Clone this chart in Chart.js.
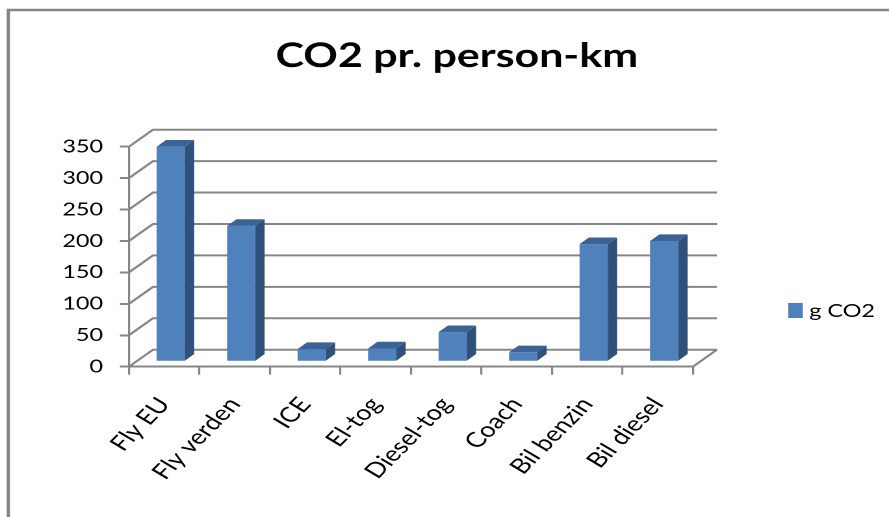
<!DOCTYPE html>
<html>
<head>
<meta charset="utf-8">
<script src="https://cdn.jsdelivr.net/npm/chart.js@4.4.1/dist/chart.umd.min.js"></script>
<style>
  html, body { margin: 0; padding: 0; background: #fff; overflow: hidden; }
  /* the chart is laid out narrow and stretched sideways, so the text gets the wide look */
  #wrap { width: 684px; height: 517px; transform: scaleX(1.2997); transform-origin: 0 0; }
</style>
</head>
<body>
<div id="wrap"><canvas id="chartCo2" width="684" height="517"></canvas></div>
<script>
(function () {
  // ---- data ----
  const categories = ["Fly EU", "Fly verden", "ICE", "El-tog", "Diesel-tog", "Coach", "Bil benzin", "Bil diesel"];
  const gCO2 = [342, 216, 20, 21, 47, 15, 187, 192];
  const seriesLabel = "g CO2";
  const chartTitle = "CO2 pr. person-km";
  const yMax = 350;
  const yStep = 50;

  // ---- geometry (canvas px, before the sideways stretch) ----
  const AXIS_LEFT = 99.2;
  const AXIS_RIGHT = 533.1;
  const PLOT_TOP = 146.7;
  const PLOT_BOTTOM = 366.7;
  const W = 684, H = 517;

  const WALL_DX = 18.5, WALL_DY = -17;    // front axis -> back wall
  const BAR_DX = 5, BAR_DY = -5;          // bars sit a bit behind the front axis
  const DEPTH_DX = 7.2, DEPTH_DY = -6.7;  // bar thickness

  const GRID = "#868686";
  const BAR_FRONT = "#4f81bd";
  const BAR_TOP = "#3b6397";
  const BAR_SIDE = "#2e5079";
  const FONT = "Lato, 'Open Sans', sans-serif";

  const Y_AXIS_W = 90;
  const X_AXIS_H = 140;

  // back wall, side diagonals and the 3d faces of the bars
  const wall3d = {
    id: "wall3d",
    beforeDatasetsDraw(chart) {
      const { ctx, chartArea } = chart;
      const y = chart.scales.y;
      ctx.save();
      ctx.strokeStyle = GRID;
      ctx.lineWidth = 2;
      y.ticks.forEach(t => {
        const py = y.getPixelForValue(t.value);
        ctx.beginPath();
        ctx.moveTo(chartArea.left, py);
        ctx.lineTo(chartArea.left + WALL_DX, py + WALL_DY);
        ctx.lineTo(chartArea.right + WALL_DX, py + WALL_DY);
        ctx.stroke();
      });
      // floor edge on the right
      const p0 = y.getPixelForValue(0);
      ctx.beginPath();
      ctx.moveTo(chartArea.right, p0);
      ctx.lineTo(chartArea.right + WALL_DX, p0 + WALL_DY);
      ctx.stroke();
      ctx.restore();

      ctx.save();
      ctx.translate(BAR_DX, BAR_DY);
    },
    afterDatasetsDraw(chart) {
      const { ctx } = chart;
      ctx.restore();

      const meta = chart.getDatasetMeta(0);
      ctx.save();
      meta.data.forEach(bar => {
        const { x, y, base, width } = bar.getProps(["x", "y", "base", "width"], true);
        const l = x - width / 2 + BAR_DX;
        const r = x + width / 2 + BAR_DX;
        const t = y + BAR_DY;
        const b = base + BAR_DY;

        ctx.fillStyle = BAR_SIDE;
        ctx.beginPath();
        ctx.moveTo(r, b);
        ctx.lineTo(r + DEPTH_DX, b + DEPTH_DY);
        ctx.lineTo(r + DEPTH_DX, t + DEPTH_DY);
        ctx.lineTo(r, t);
        ctx.closePath();
        ctx.fill();

        ctx.fillStyle = BAR_TOP;
        ctx.beginPath();
        ctx.moveTo(l, t);
        ctx.lineTo(l + DEPTH_DX, t + DEPTH_DY);
        ctx.lineTo(r + DEPTH_DX, t + DEPTH_DY);
        ctx.lineTo(r, t);
        ctx.closePath();
        ctx.fill();
      });
      ctx.restore();
    },
    afterDraw(chart) {
      const { ctx } = chart;
      ctx.save();

      // outer frame (only top and left show)
      ctx.strokeStyle = GRID;
      ctx.lineWidth = 2.5;
      ctx.beginPath();
      ctx.moveTo(6.4, H + 5);
      ctx.lineTo(6.4, 10);
      ctx.lineTo(W + 5, 10);
      ctx.stroke();

      // title
      ctx.fillStyle = "#000";
      ctx.font = "bold 33px " + FONT;
      ctx.textAlign = "center";
      ctx.textBaseline = "alphabetic";
      ctx.fillText(chartTitle, 351.5, 67);

      // legend
      ctx.fillStyle = BAR_FRONT;
      ctx.fillRect(606.5, 303, 11.2, 15);
      ctx.fillStyle = "#000";
      ctx.font = "18px " + FONT;
      ctx.textAlign = "left";
      ctx.textBaseline = "middle";
      ctx.fillText(seriesLabel, 622.6, 311);

      ctx.restore();
    }
  };

  const ctx = document.getElementById("chartCo2").getContext("2d");

  new Chart(ctx, {
    type: "bar",
    data: {
      labels: categories,
      datasets: [{
        label: seriesLabel,
        data: gCO2,
        backgroundColor: BAR_FRONT,
        borderWidth: 0,
        barPercentage: 0.4,
        categoryPercentage: 1,
        clip: false
      }]
    },
    options: {
      responsive: false,
      devicePixelRatio: 2,
      animation: false,
      layout: {
        padding: {
          left: AXIS_LEFT - Y_AXIS_W,
          right: W - AXIS_RIGHT,
          top: PLOT_TOP,
          bottom: H - PLOT_BOTTOM - X_AXIS_H
        }
      },
      plugins: {
        legend: { display: false },
        title: { display: false },
        tooltip: { enabled: false }
      },
      scales: {
        x: {
          afterFit(scale) { scale.height = X_AXIS_H; },
          grid: { drawOnChartArea: false, drawTicks: true, tickLength: 8, color: GRID, lineWidth: 1.6 },
          border: { display: true, color: GRID, width: 2 },
          ticks: {
            color: "#000",
            font: { family: FONT, size: 21 },
            minRotation: 52.4,
            maxRotation: 52.4,
            autoSkip: false,
            padding: 18
          }
        },
        y: {
          min: 0,
          max: yMax,
          afterFit(scale) { scale.width = Y_AXIS_W; },
          grid: { drawOnChartArea: false, drawTicks: true, tickLength: 6.9, color: GRID, lineWidth: 2 },
          border: { display: true, color: GRID, width: 1.6 },
          ticks: {
            stepSize: yStep,
            color: "#000",
            font: { family: FONT, size: 18 },
            padding: 13
          }
        }
      }
    },
    plugins: [wall3d]
  });
})();
</script>
</body>
</html>
